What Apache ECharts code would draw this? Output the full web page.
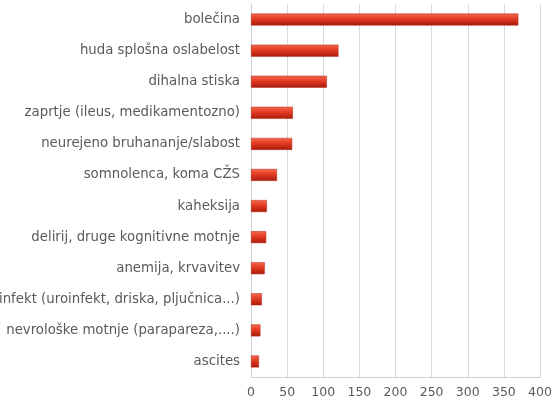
<!DOCTYPE html>
<html><head><meta charset="utf-8">
<script src="https://cdn.jsdelivr.net/npm/echarts@6/dist/echarts.min.js"></script>
<style>html,body{margin:0;padding:0;background:#fff}#c{width:558px;height:403px}</style>
</head><body><div id="c"></div>
<script>
const categories = ["bolečina","huda splošna oslabelost","dihalna stiska","zaprtje (ileus, medikamentozno)","neurejeno bruhananje/slabost","somnolenca, koma CŽS","kaheksija","delirij, druge kognitivne motnje","anemija, krvavitev","infekt (uroinfekt, driska, pljučnica...)","nevrološke motnje (parapareza,....)","ascites"];
const values = [370, 121, 105, 58, 57, 36, 22, 21, 19, 15, 13, 11];
const xTicks = [0, 50, 100, 150, 200, 250, 300, 350, 400];

const chart = echarts.init(document.getElementById('c'), null, {renderer:'canvas'});
chart.setOption({
  animation:false,
  grid:{left:251, right:18, top:4, bottom:26, containLabel:false, outerBoundsMode:'none'},
  xAxis:{type:'value', min:xTicks[0], max:xTicks[xTicks.length-1], interval:50,
    axisLine:{show:true, lineStyle:{color:'#cfcfcf', width:1}},
    axisTick:{show:false},
    axisLabel:{color:'#5a5a5a', fontSize:12.5, fontFamily:'DejaVu Sans', margin:9},
    splitLine:{show:true, lineStyle:{color:'#d9d9d9', width:1}}},
  yAxis:{type:'category', data:categories, inverse:true,
    axisLine:{show:true, lineStyle:{color:'#c8d0dc'}},
    axisTick:{show:false},
    axisLabel:{color:'#5a5a5a', fontSize:13.3, fontFamily:'DejaVu Sans', margin:11}},
  series:[{type:'bar', data:values, barWidth:12,
    itemStyle:{color:new echarts.graphic.LinearGradient(0,0,0,1,[
      {offset:0,color:'#f36a50'},{offset:0.45,color:'#e33a22'},{offset:1,color:'#a81a0c'}]),
      borderColor:'#b82a18', borderWidth:0.5}}]
});
</script></body></html>
